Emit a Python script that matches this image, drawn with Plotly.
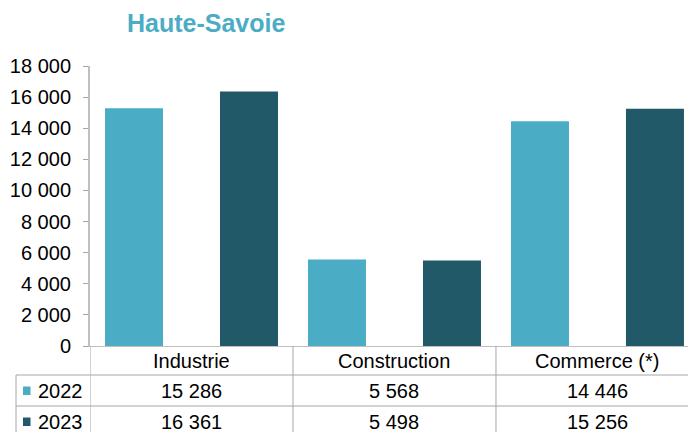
import plotly.graph_objects as go

categories = ["Industrie", "Construction", "Commerce (*)"]
years = ["2022", "2023"]
values_2022 = [15286, 5568, 14446]
values_2023 = [16361, 5498, 15256]
y_ticks = [0, 2000, 4000, 6000, 8000, 10000, 12000, 14000, 16000, 18000]
colors = ["#4BACC6", "#215968"]

W, H = 688, 432
L, R, T, B = 90, 688, 66, 346  # plot area in pixels
CAT_W = 203.0  # pixel width of one category
FONT = "Liberation Sans, Arial, sans-serif"
GRID = "#A6A6A6"
FS = 20


def fmt(v):
    return f"{v:,}".replace(",", " ")


def px(x):
    return (x - L) / (R - L)


def py(y):
    return (B - y) / (B - T)


bar_w = 58 / CAT_W
offsets = [-86.5 / CAT_W, 28.5 / CAT_W]

fig = go.Figure()
for name, vals, col, off in zip(years, [values_2022, values_2023], colors, offsets):
    fig.add_trace(go.Bar(x=categories, y=vals, name=name, marker_color=col,
                         width=bar_w, offset=off,
                         marker_line_width=0, showlegend=False))

shapes = []
annotations = []
line = dict(color=GRID, width=1)
# horizontal table lines
for yy in [375, 406]:
    shapes.append(dict(type="line", xref="paper", yref="paper", x0=px(16), x1=px(700),
                       y0=py(yy), y1=py(yy), line=line))
# left border of legend column
shapes.append(dict(type="line", xref="paper", yref="paper", x0=px(16), x1=px(16),
                   y0=py(375), y1=py(440), line=line))
# column dividers (category boundaries, in data coordinates)
for b in [-0.5, 0.5, 1.5]:
    shapes.append(dict(type="line", xref="x", yref="paper", x0=b, x1=b,
                       y0=py(346), y1=py(440), line=line))

# header labels
for c in categories:
    annotations.append(dict(x=c, xref="x", y=py(360.5), yref="paper", text=c,
                            xanchor="center", yanchor="middle",
                            showarrow=False, font=dict(size=FS, color="#000", family=FONT)))
# rows
for i, (name, vals, col) in enumerate(zip(years, [values_2022, values_2023], colors)):
    yc = py(390.5 + 31 * i)
    shapes.append(dict(type="rect", xref="paper", yref="paper", x0=px(23), x1=px(30.5),
                       y0=yc - 4.5 / (B - T), y1=yc + 4 / (B - T), fillcolor=col, line_width=0))
    annotations.append(dict(x=px(36), xref="paper", y=yc, yref="paper", text=name,
                            xanchor="left", yanchor="middle", showarrow=False,
                            font=dict(size=FS, color="#000", family=FONT)))
    for c, v in zip(categories, vals):
        annotations.append(dict(x=c, xref="x", y=yc, yref="paper", text=fmt(v),
                                xanchor="center", yanchor="middle",
                                showarrow=False, font=dict(size=FS, color="#000", family=FONT)))

annotations.append(dict(x=px(206), xref="paper", y=py(23), yref="paper", text="<b>Haute-Savoie</b>",
                        xanchor="center", yanchor="middle",
                        showarrow=False, font=dict(size=25, color="#4BACC6", family=FONT)))

fig.update_layout(
    width=W, height=H,
    margin=dict(l=L, r=W - R, t=T, b=H - B, pad=0),
    paper_bgcolor="white", plot_bgcolor="white",
    barmode="overlay",
    xaxis=dict(range=[-0.5, 2.446], showticklabels=False, ticks="", showgrid=False,
               zeroline=False, showline=True, linecolor="#BFBFBF", linewidth=1,
               automargin=False),
    yaxis=dict(range=[0, 18000], tickvals=y_ticks, ticktext=[fmt(v) for v in y_ticks],
               showgrid=False, zeroline=False, showline=True, linecolor="#BFBFBF",
               linewidth=2, ticks="outside", ticklen=5, tickcolor="#A6A6A6",
               ticklabelstandoff=8, automargin=False,
               tickfont=dict(size=FS, color="#000", family=FONT)),
    shapes=shapes, annotations=annotations,
)

fig.write_html("out.html", config={"displayModeBar": False},
               post_script="document.body.style.margin='0';document.body.style.overflow='hidden';")
